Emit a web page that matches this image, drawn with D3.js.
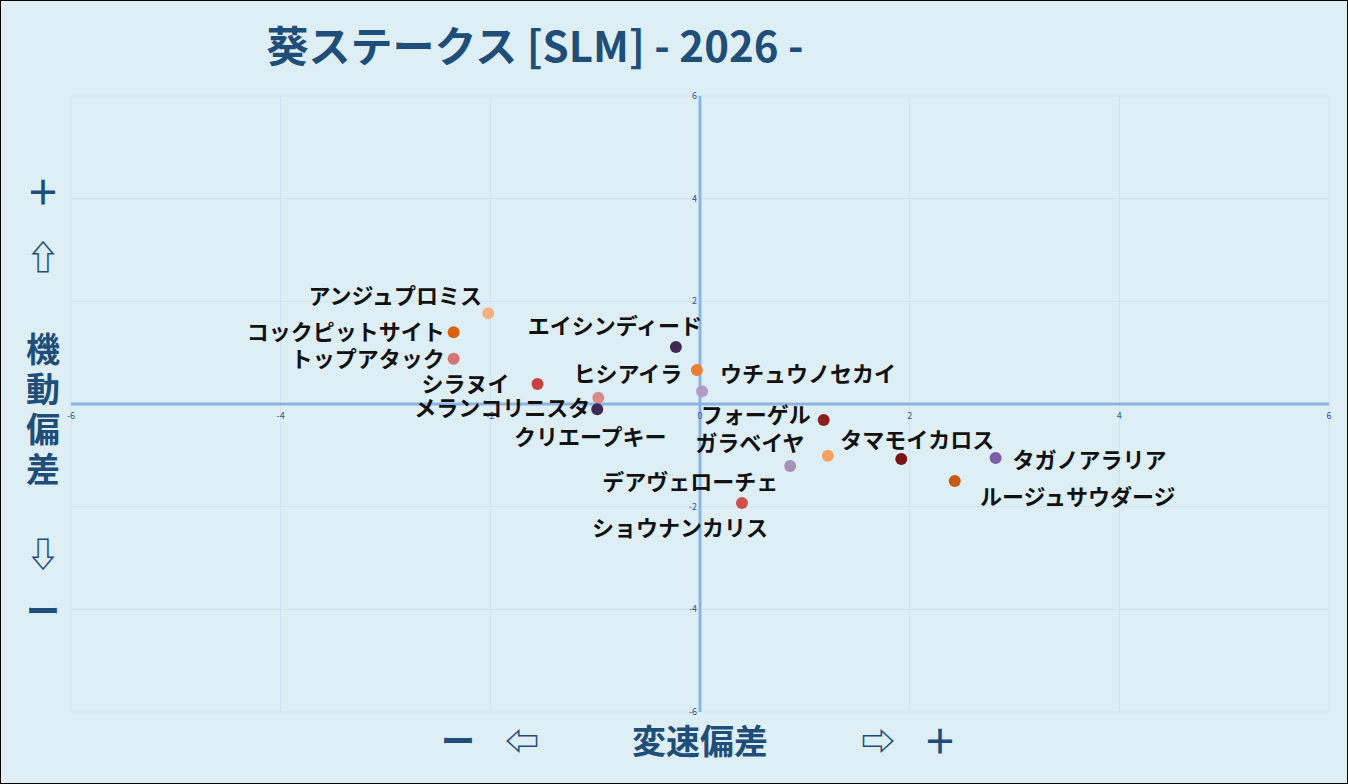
<!DOCTYPE html>
<html><head><meta charset="utf-8">
<script src="https://cdn.jsdelivr.net/npm/d3@7"></script>
<style>
body{margin:0;background:#fff;}
svg{display:block;font-family:"Noto Sans CJK JP",sans-serif;}
</style></head>
<body><div id="chart"></div>
<script>
const horses = ["アンジュプロミス","コックピットサイト","トップアタック","シラヌイ","メランコリニスタ","クリエープキー","エイシンディード","ヒシアイラ","ウチュウノセカイ","フォーゲル","ガラベイヤ","タマモイカロス","タガノアラリア","ルージュサウダージ","デアヴェローチェ","ショウナンカリス"];
const speedDev = [-2.02,-2.35,-2.35,-1.55,-0.97,-0.98,-0.23,-0.03,0.02,1.18,1.22,1.92,2.82,2.43,0.86,0.40];
const mobilityDev = [1.77,1.40,0.88,0.39,0.12,-0.10,1.11,0.66,0.25,-0.31,-1.01,-1.07,-1.05,-1.50,-1.21,-1.93];
const ticks = [-6,-4,-2,0,2,4,6];

// dot colours and label offsets (px)
const colors = ["#f4b183","#d9630b","#d27575","#c94040","#d98c8c","#3f2a56","#3f2a56","#ed7d31","#b49ac7","#8b1f1f","#f4a460","#7a1515","#7b5ea7","#c55a11","#a890b8","#d05050"];
const offs = [[-93,-17],[-108,0],[-86,0],[-72,0],[-96,10],[-7,28],[-61,-21],[-69,4],[106,-17],[-68,-5],[-78,-13],[16,-19],[94,2],[123,16],[-100,16],[-62,25]];

const W=1348,H=784;
const svg=d3.select("#chart").append("svg").attr("width",W).attr("height",H);
svg.append("rect").attr("x",0.5).attr("y",0.5).attr("width",W-1).attr("height",H-1)
  .attr("fill","#deeef5").attr("stroke","#000");

const x=d3.scaleLinear().domain([-6,6]).range([71,1329]);
const y=d3.scaleLinear().domain([-6,6]).range([712,96]);

const g=svg.append("g");
ticks.forEach(t=>{
  g.append("line").attr("x1",x(t)).attr("x2",x(t)).attr("y1",y(-6)).attr("y2",y(6)).attr("stroke","#d0e2f0");
  g.append("line").attr("y1",y(t)).attr("y2",y(t)).attr("x1",x(-6)).attr("x2",x(6)).attr("stroke","#d0e2f0");
});
g.append("line").attr("x1",x(0)).attr("x2",x(0)).attr("y1",y(-6)).attr("y2",y(6)).attr("stroke","#8db3e2").attr("stroke-width",3);
g.append("line").attr("y1",y(0)).attr("y2",y(0)).attr("x1",x(-6)).attr("x2",x(6)).attr("stroke","#8db3e2").attr("stroke-width",3);
ticks.forEach(t=>{
  g.append("text").attr("x",x(t)).attr("y",y(0)+15).attr("text-anchor","middle").attr("font-size",9).attr("fill","#2f5597").text(t);
  if(t!==0) g.append("text").attr("x",x(0)-3).attr("y",y(t)+3).attr("text-anchor","end").attr("font-size",9).attr("fill","#2f5597").text(t);
});

horses.forEach((h,i)=>{
  const px=x(speedDev[i]),py=y(mobilityDev[i]);
  svg.append("circle").attr("cx",px).attr("cy",py).attr("r",6).attr("fill",colors[i]);
  svg.append("text").attr("x",px+offs[i][0]).attr("y",py+offs[i][1]).attr("dy","0.35em")
    .attr("text-anchor","middle").attr("font-size",22).attr("font-weight","bold").attr("fill","#111").text(h);
});

svg.append("text").attr("x",535).attr("y",62).attr("text-anchor","middle").attr("font-size",42)
  .attr("font-weight","bold").attr("fill","#1f4e79").text("葵ステークス [SLM]  - 2026 -");

const blue="#1f4e79";
const yl=[["＋",193],["⇧",258],["機",350],["動",390],["偏",430],["差",470],["⇩",555],["ー",612]];
yl.forEach(([c,yy])=>svg.append("text").attr("x",43).attr("y",yy).attr("dy","0.35em").attr("text-anchor","middle")
  .attr("font-size",34).attr("font-weight","bold").attr("fill",blue).text(c));
[["ー",458],["⇦",522],["変速偏差",700],["⇨",878],["＋",940]].forEach(([c,xx])=>svg.append("text").attr("x",xx).attr("y",742).attr("dy","0.35em")
  .attr("text-anchor","middle").attr("font-size",34).attr("font-weight","bold").attr("fill",blue).text(c));
</script></body></html>
